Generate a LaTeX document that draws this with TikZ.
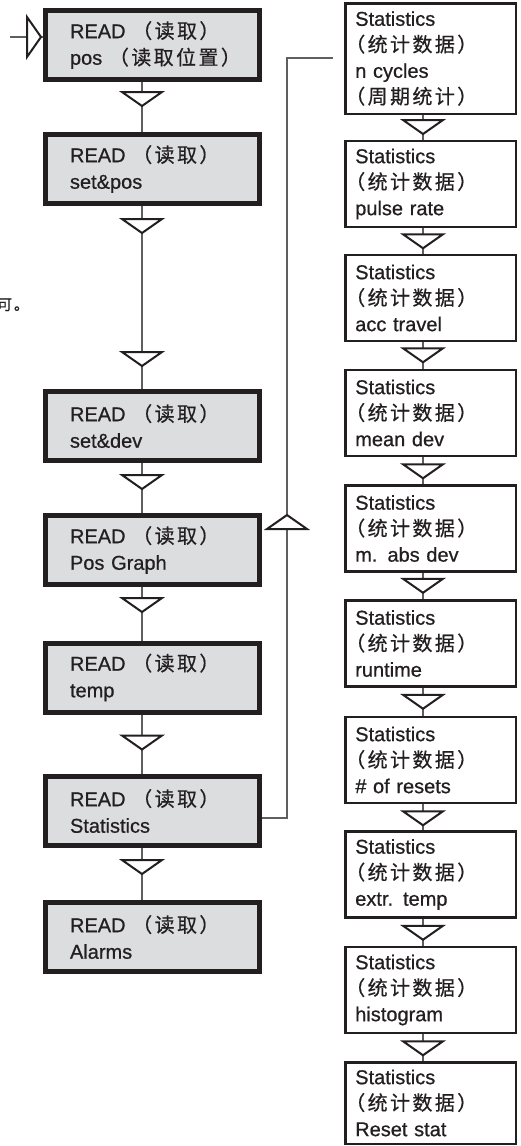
\documentclass[tikz,border=0pt]{standalone}
\usepackage{fontspec}
\setmainfont{Liberation Sans}[FakeBold=0.7]
\newfontfamily\cjk{Noto Sans CJK SC}[FakeBold=0.5, LetterSpace=12]
\newfontfamily\cjkhalf{Noto Sans CJK SC}[FakeBold=0.5, LetterSpace=12, RawFeature=+halt]
\usepackage{xcolor}
\usepackage{tikz}
\usetikzlibrary{
    positioning,
    decorations.markings
}
\definecolor{boxgray}{RGB}{220,221,223}
\definecolor{inkdark}{RGB}{35,31,32}
\definecolor{wiregray}{RGB}{95,95,95}
\newcommand{\zh}[1]{{\cjk #1}}
\newcommand{\zhs}[1]{{\cjkhalf #1}}
\hbadness=10000
\hfuzz=40pt

\begin{document}
\begin{tikzpicture}[
      x=1pt, y=-1pt,
      readbox/.style={rectangle, draw=inkdark, line width=5pt, fill=boxgray,
          minimum width=214pt, minimum height=69pt, text width=165pt,
          inner xsep=24.5pt, inner ysep=2pt, align=left, text=inkdark,
          font=\fontsize{20}{26.5}\selectfont},
      statbox/.style={rectangle, draw=inkdark, line width=2.5pt, fill=white,
          minimum width=170.5pt, minimum height=86pt, text width=150.5pt,
          inner xsep=10pt, inner ysep=2pt, align=left, text=inkdark,
          font=\fontsize{20}{26}\selectfont},
      wire/.style={draw=wiregray, line width=1.2pt},
      flowtri/.style={postaction={decorate, decoration={markings,
          mark=at position #1 with {\draw[inkdark, line width=2pt, fill=white]
              (0,-20) -- (0,20) -- (14,0) -- cycle;}}}},
      note/.style={font=\cjk\fontsize{15}{17}\selectfont, inner sep=0pt, text=inkdark}
    ]
    \useasboundingbox (0,0) rectangle (521,1146);

    \coordinate (lspine) at (142,0);
    \coordinate (rspine) at (423,0);

    \node[note, anchor=base west] (cut) at (-3,310) {可。};

    \node[readbox] (b1) at (152.5,45) {READ~\zh{（读取）}\\pos~\zh{（读取位置）}};
    \node[readbox] (b2) at (152.5,169) {READ~\zh{（读取）}\\set\&pos};
    \node[readbox] (b3) at (152.5,426) {READ~\zh{（读取）}\\set\&dev};
    \node[readbox] (b4) at (152.5,550) {READ~\zh{（读取）}\\Pos Graph};
    \node[readbox] (b5) at (152.5,677.5) {READ~\zh{（读取）}\\temp};
    \node[readbox] (b6) at (152.5,811) {READ~\zh{（读取）}\\Statistics};
    \node[readbox] (b7) at (152.5,937) {READ~\zh{（读取）}\\Alarms};

    \node[statbox, minimum height=110.5pt] (r1) at (430.5,58.5)
        {Statistics\\\zhs{（统计数据）}\\n cycles\\\zhs{（周期统计）}};
    \node[statbox] (r2) at (430.5,184) {Statistics\\\zhs{（统计数据）}\\pulse rate};
    \node[statbox] (r3) at (430.5,298) {Statistics\\\zhs{（统计数据）}\\acc travel};
    \node[statbox] (r4) at (430.5,413) {Statistics\\\zhs{（统计数据）}\\mean dev};
    \node[statbox] (r5) at (430.5,528.5) {Statistics\\\zhs{（统计数据）}\\m. abs dev};
    \node[statbox] (r6) at (430.5,643.5) {Statistics\\\zhs{（统计数据）}\\runtime};
    \node[statbox] (r7) at (430.5,760) {Statistics\\\zhs{（统计数据）}\\\# of resets};
    \node[statbox] (r8) at (430.5,874.5) {Statistics\\\zhs{（统计数据）}\\extr. temp};
    \node[statbox] (r9) at (430.5,990) {Statistics\\\zhs{（统计数据）}\\histogram};
    \node[statbox, minimum height=81.5pt] (r10) at (430.5,1103) {Statistics\\\zhs{（统计数据）}\\Reset stat};

    \coordinate (entry) at (10,37);
    \coordinate (fbtop) at (287,58);
    \coordinate (fbend) at (333,58);

    \draw[wire, flowtri=17pt] (entry) -- (entry -| b1.west);
    \draw[wire, flowtri=10pt] (b1.south -| lspine) -- (b2.north -| lspine);
    \draw[wire, flowtri=13pt, flowtri=146pt] (b2.south -| lspine) -- (b3.north -| lspine);
    \draw[wire, flowtri=12pt] (b3.south -| lspine) -- (b4.north -| lspine);
    \draw[wire, flowtri=11pt] (b4.south -| lspine) -- (b5.north -| lspine);
    \draw[wire, flowtri=21pt] (b5.south -| lspine) -- (b6.north -| lspine);
    \draw[wire, flowtri=12pt] (b6.south -| lspine) -- (b7.north -| lspine);

    \draw[wire, flowtri=314pt] ([yshift=-7pt]b6.east) -| (fbtop) -- (fbend);

    \draw[wire, flowtri=5pt] (r1.south -| rspine) -- (r2.north -| rspine);
    \draw[wire, flowtri=6pt] (r2.south -| rspine) -- (r3.north -| rspine);
    \draw[wire, flowtri=6pt] (r3.south -| rspine) -- (r4.north -| rspine);
    \draw[wire, flowtri=7pt] (r4.south -| rspine) -- (r5.north -| rspine);
    \draw[wire, flowtri=6pt] (r5.south -| rspine) -- (r6.north -| rspine);
    \draw[wire, flowtri=7pt] (r6.south -| rspine) -- (r7.north -| rspine);
    \draw[wire, flowtri=7pt] (r7.south -| rspine) -- (r8.north -| rspine);
    \draw[wire, flowtri=7pt] (r8.south -| rspine) -- (r9.north -| rspine);
    \draw[wire, flowtri=7pt] (r9.south -| rspine) -- (r10.north -| rspine);
  \end{tikzpicture}
\end{document}
